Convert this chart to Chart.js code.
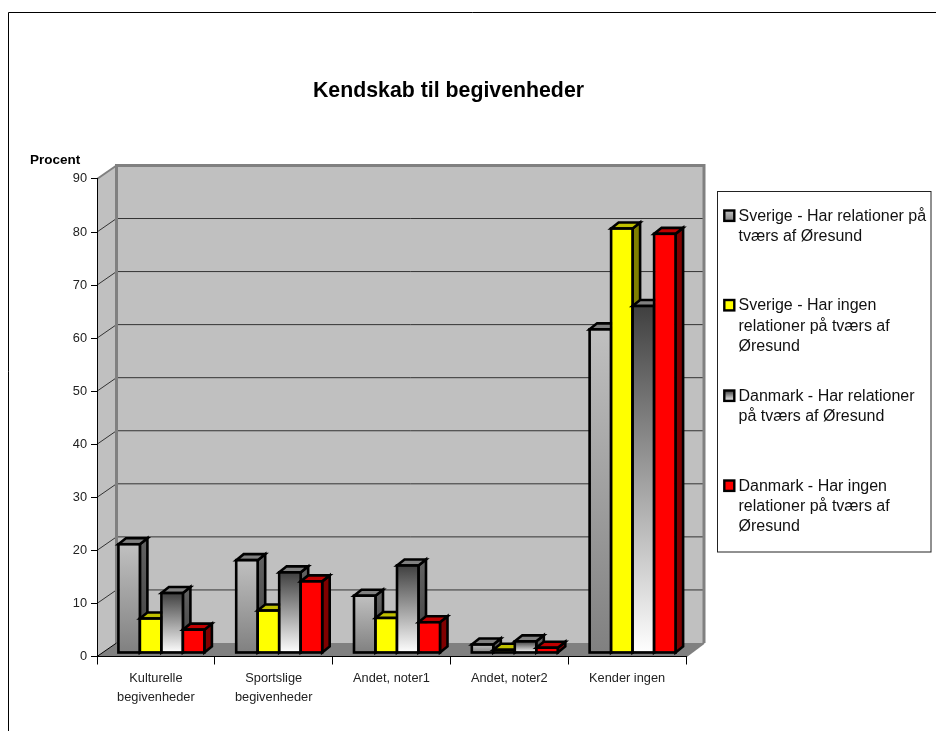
<!DOCTYPE html>
<html><head><meta charset="utf-8">
<style>html,body{margin:0;padding:0;background:#fff}#w{width:936px;height:731px;position:relative}</style>
<script src="https://cdn.jsdelivr.net/npm/chart.js@4"></script></head>
<body><div id="w"><canvas id="c" width="936" height="731"></canvas></div>
<script>
const chartTitle = 'Kendskab til begivenheder';
const yAxisLabel = 'Procent';
const categories = [['Kulturelle','begivenheder'],['Sportslige','begivenheder'],'Andet, noter1','Andet, noter2','Kender ingen'];
const sverigeRel = [20.5, 17.5, 10.8, 1.6, 61];
const sverigeIngen = [6.5, 8, 6.6, 0.6, 80];
const danmarkRel = [11.3, 15.2, 16.5, 2.2, 65.4];
const danmarkIngen = [4.4, 13.5, 5.8, 1, 79];
const legendLines = [
  ['Sverige - Har relationer på','tværs af Øresund'],
  ['Sverige - Har ingen','relationer på tværs af','Øresund'],
  ['Danmark - Har relationer','på tværs af Øresund'],
  ['Danmark - Har ingen','relationer på tværs af','Øresund']];
const legendY = [216.5, 306, 396.5, 486.5];
const FONT = '"Liberation Sans", Arial, sans-serif';
const WALL = {dx: 19.5, dxR: 18, dy: -13.5}, BAR = {dx: 5.5, dy: -3.5, depthX: 7.5, depthY: -6};

function vGrad(ctx, y0, y1, c0, c1){const g=ctx.createLinearGradient(0,y0,0,y1);g.addColorStop(0,c0);g.addColorStop(1,c1);return g;}
const faces = [
  {front:['#c0c0c0','#808080'], side:['#606060','#404040'], top:'#808080'},
  {front:'#ffff00', side:'#808000', top:'#c0c000'},
  {front:['#404040','#ffffff'], side:['#606060','#404040'], top:'#808080'},
  {front:'#ff0000', side:'#800000', top:'#c00000'}];

function frontFill(i){
  return c=>{
    const f=faces[i].front; if(typeof f==='string')return f;
    const y=c.chart.scales.y; if(!y||c.raw==null)return f[0];
    const a=y.getPixelForValue(c.raw),b=y.getPixelForValue(0);
    if(!isFinite(a)||!isFinite(b))return f[0];
    return vGrad(c.chart.ctx,a,b,f[0],f[1]);
  };
}
const names = legendLines.map(l=>l.join(' '));
const series = [sverigeRel,sverigeIngen,danmarkRel,danmarkIngen];

const decor = {
  id:'decor',
  afterLayout(chart){ if(chart.titleBlock) chart.titleBlock.right = chart.titleBlock.left + 897; },
  beforeDatasetsDraw(chart){
    const ctx=chart.ctx;
    ctx.save(); ctx.translate(BAR.dx,BAR.dy);
    series.forEach((_,i)=>{
      const meta=chart.getDatasetMeta(i), f=faces[i];
      meta.data.forEach(b=>{
        const l=b.x-b.width/2, r=b.x+b.width/2, t=b.y, bt=b.base;
        ctx.lineWidth=2.6; ctx.strokeStyle='#000'; ctx.lineJoin='miter';
        ctx.fillStyle=typeof f.side==='string'?f.side:vGrad(ctx,t,bt,f.side[0],f.side[1]);
        ctx.beginPath();ctx.moveTo(r,t);ctx.lineTo(r+BAR.depthX,t+BAR.depthY);ctx.lineTo(r+BAR.depthX,bt+BAR.depthY);ctx.lineTo(r,bt);ctx.closePath();ctx.fill();ctx.stroke();
        ctx.fillStyle=f.top;
        ctx.beginPath();ctx.moveTo(l,t);ctx.lineTo(l+BAR.depthX,t+BAR.depthY);ctx.lineTo(r+BAR.depthX,t+BAR.depthY);ctx.lineTo(r,t);ctx.closePath();ctx.fill();ctx.stroke();
      });
      meta.controller.draw();
      meta.data.forEach(b=>{
        ctx.lineWidth=2.6; ctx.strokeStyle='#000';
        ctx.strokeRect(b.x-b.width/2,b.y,b.width,b.base-b.y);
      });
    });
    ctx.restore();
    return false;
  },
  beforeDraw(chart){
    const ctx=chart.ctx,{x,y}=chart.scales;
    const L=x.left,R=x.right,T=y.getPixelForValue(90),B=y.getPixelForValue(0),dx=WALL.dx,dxR=WALL.dxR,dy=WALL.dy;
    ctx.save();
    ctx.strokeStyle='#000';ctx.lineWidth=1;
    ctx.beginPath();ctx.moveTo(8.5,731);ctx.lineTo(8.5,12.5);ctx.lineTo(936,12.5);ctx.stroke();
    ctx.fillStyle='#c0c0c0';
    ctx.fillRect(L+dx,T+dy,R+dxR-L-dx,B-T);
    ctx.beginPath();ctx.moveTo(L,T);ctx.lineTo(L+dx,T+dy);ctx.lineTo(L+dx,B+dy);ctx.lineTo(L,B);ctx.closePath();ctx.fill();
    ctx.fillStyle='#808080';
    ctx.beginPath();ctx.moveTo(L,B);ctx.lineTo(L+dx,B+dy);ctx.lineTo(R+dxR,B+dy);ctx.lineTo(R,B);ctx.closePath();ctx.fill();
    ctx.strokeStyle='#333';ctx.lineWidth=1;
    y.ticks.forEach(tk=>{
      if(tk.value===0||tk.value===90)return;
      const p=y.getPixelForValue(tk.value);
      ctx.beginPath();ctx.moveTo(L,p);ctx.lineTo(L+dx,p+dy);ctx.lineTo(R+dxR,p+dy);ctx.stroke();
    });
    ctx.strokeStyle='#808080';ctx.lineWidth=3;
    ctx.beginPath();ctx.moveTo(L+dx,B+dy);ctx.lineTo(L+dx,T+dy);ctx.lineTo(R+dxR,T+dy);ctx.lineTo(R+dxR,B+dy);ctx.stroke();
    ctx.lineWidth=2;
    ctx.beginPath();ctx.moveTo(L,T);ctx.lineTo(L+dx,T+dy);ctx.stroke();
    ctx.beginPath();ctx.moveTo(R,B);ctx.lineTo(R+dxR,B+dy);ctx.stroke();
    ctx.lineWidth=1;ctx.strokeStyle='#000';
    ctx.beginPath();ctx.moveTo(L,B);ctx.lineTo(L+dx,B+dy);ctx.stroke();
    ctx.restore();
  },
  afterDraw(chart){
    const ctx=chart.ctx;
    ctx.save();
    ctx.fillStyle='#000';ctx.textBaseline='middle';ctx.textAlign='left';
    ctx.font='bold 13.5px '+FONT;
    ctx.fillText(yAxisLabel,30,160);
    ctx.fillStyle='#fff';ctx.strokeStyle='#222';ctx.lineWidth=1;
    ctx.fillRect(718,192,213,360);ctx.strokeRect(717.5,191.5,213.5,360.5);
    ctx.font='16px '+FONT;
    legendLines.forEach((ls,i)=>{
      const y0=legendY[i],f=faces[i];
      ctx.fillStyle=i===0?vGrad(ctx,y0-6,y0+5,'#c0c0c0','#808080'):i===2?vGrad(ctx,y0-6,y0+5,'#404040','#ffffff'):f.front;
      ctx.strokeStyle='#000';ctx.lineWidth=2.4;
      ctx.fillRect(724.3,y0-6,10,10.4);ctx.strokeRect(724.3,y0-6,10,10.4);
      ctx.fillStyle='#111';
      ls.forEach((t,j)=>ctx.fillText(t,738.5,y0+j*20.2));
    });
    ctx.restore();
  }
};

new Chart(document.getElementById('c'),{
  type:'bar',
  data:{labels:categories,datasets:series.map((d,i)=>({
    label:names[i],data:d,backgroundColor:frontFill(i),borderColor:'#000',borderWidth:1,borderSkipped:false,
    barPercentage:1,categoryPercentage:0.73}))},
  plugins:[decor],
  options:{
    responsive:false,animation:false,
    layout:{padding:{left:0,right:250,top:0,bottom:0}},
    plugins:{
      legend:{display:false},tooltip:{enabled:false},
      title:{display:true,text:chartTitle,color:'#000',font:{family:FONT,size:21.3,weight:'bold',lineHeight:1.2},padding:{top:78,bottom:75.4}}
    },
    scales:{
      x:{type:'category',offset:true,
        border:{color:'#000',width:1},
        grid:{offset:true,drawOnChartArea:false,drawTicks:true,tickLength:8,color:'#000'},
        ticks:{color:'#222',maxRotation:0,minRotation:0,autoSkip:false,padding:4,font:{family:FONT,size:12.8,lineHeight:1.5}},
        afterFit(s){s.height=731-656.5;}
      },
      y:{min:0,max:90,
        border:{color:'#000',width:1},
        grid:{drawOnChartArea:false,drawTicks:true,tickLength:6,color:'#000'},
        ticks:{stepSize:10,color:'#222',padding:4,font:{family:FONT,size:12.8}},
        afterFit(s){s.width=97;}
      }
    }
  }
});
</script></body></html>
